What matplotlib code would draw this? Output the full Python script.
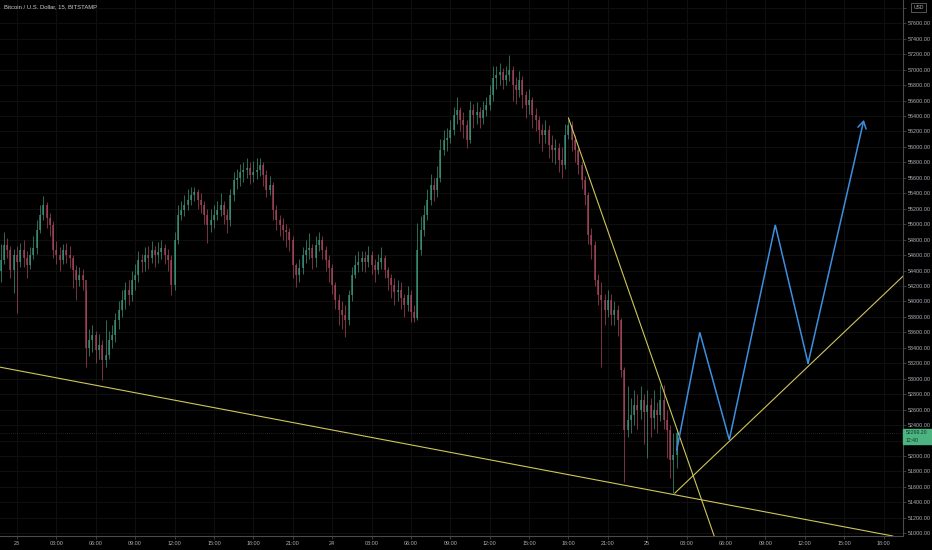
import matplotlib.pyplot as plt

plt.rcParams['font.family'] = ['Liberation Sans', 'DejaVu Sans']

# BTC/USD 15 minute bars, first bar at 22nd 22:45, open of each bar = previous close
first_open = 54400
closes = [
    54540, 54730, 54670, 54410, 54600, 54510, 54670, 54560, 54470, 54600,
    54690, 54930, 55120, 55250, 55080, 54990, 54670, 54600, 54540, 54670,
    54600, 54560, 54410, 54280, 54340, 54280, 53400, 53500, 53570, 53370,
    53440, 53240, 53310, 53500, 53570, 53760, 53890, 54020, 54150, 54080,
    54280, 54340, 54540, 54510, 54600, 54560, 54670, 54600, 54640, 54690,
    54600, 54540, 54210, 54800, 55120, 55180, 55250, 55310, 55380, 55420,
    55310, 55250, 55120, 54990, 55050, 55120, 55180, 55250, 55120, 55050,
    55380, 55570, 55600, 55680, 55700, 55730, 55640, 55680, 55700, 55770,
    55640, 55440, 55510, 55180, 55050, 54990, 54920, 54900, 54800, 54470,
    54340, 54430, 54600, 54670, 54690, 54560, 54730, 54800, 54670, 54540,
    54430, 54210, 54020, 53890, 53830, 53760, 54080, 54340, 54470, 54510,
    54560, 54510, 54600, 54470, 54410, 54510, 54560, 54410, 54300, 54210,
    54120, 54150, 54050, 53950, 54080, 53860, 53790, 54670, 54930, 55120,
    55310, 55510, 55440, 55600, 55960, 56090, 56120, 56220, 56410, 56480,
    56350, 56280, 56090, 56480, 56410, 56450, 56370, 56480, 56540, 56670,
    56890, 56930, 56970, 56870, 56930, 57000, 56800, 56740, 56870, 56670,
    56540, 56610, 56410, 56350, 56220, 56150, 56220, 56030, 55960, 55990,
    55830, 55770, 56150, 56280, 56090, 55960, 55770, 55570, 55380, 54860,
    54730, 54280, 54080, 54020, 53890, 54020, 53830, 53890, 53760, 53110,
    52340, 52470, 52530, 52660, 52600, 52730, 52570, 52660, 52490, 52600,
    52530, 52730, 52470, 52340, 51950, 52010, 52299,
]
highs = [
    54750, 54900, 54820, 54720, 54680, 54720, 54760, 54800, 54650, 54700,
    54850, 55050, 55250, 55360, 55290, 55150, 55040, 54780, 54700, 54750,
    54760, 54720, 54600, 54470, 54450, 54420, 54150, 53650, 53700, 53620,
    53580, 53500, 53760, 53620, 53700, 53850, 54000, 54150, 54250, 54280,
    54400, 54480, 54650, 54620, 54700, 54720, 54780, 54720, 54770, 54800,
    54750, 54680, 54600, 54900, 55250, 55300, 55380, 55450, 55480, 55480,
    55460, 55400, 55300, 55200, 55200, 55250, 55300, 55400, 55300, 55200,
    55450, 55680, 55720, 55780, 55800, 55850, 55800, 55820, 55850, 55860,
    55800, 55700, 55620, 55550, 55250, 55120, 55080, 55000, 54950, 54850,
    54500, 54550, 54700, 54800, 54880, 54750, 54850, 54900, 54850, 54720,
    54600, 54480, 54250, 54100, 54000, 53950, 54150, 54450, 54600, 54650,
    54650, 54650, 54720, 54650, 54550, 54620, 54700, 54600, 54450, 54350,
    54300, 54280, 54250, 54100, 54200, 54150, 53950, 55020, 55100, 55250,
    55450, 55650, 55600, 55750, 56100, 56220, 56250, 56350, 56520, 56650,
    56520, 56450, 56350, 56600, 56550, 56580, 56520, 56600, 56650, 56800,
    57050, 57050, 57080, 57020, 57050, 57190, 57050, 56900, 56980, 56920,
    56720, 56750, 56650, 56500, 56400, 56300, 56350, 56280, 56150, 56100,
    56050, 56000, 56300, 56380, 56330, 56150, 56000, 55820, 55620, 55420,
    54950, 54780, 54350, 54250, 54100, 54150, 54100, 54000, 53950, 53780,
    53150, 52900, 52750, 52850, 52800, 52900, 52800, 52850, 52750, 52850,
    52700, 52920, 52920, 52600, 52400, 52300, 52350,
]
lows = [
    54250, 54480, 54560, 54300, 54110, 53850, 54450, 54450, 54300, 54420,
    54550, 54620, 54880, 55050, 54950, 54850, 54560, 54480, 54400, 54480,
    54500, 54430, 54180, 54020, 54200, 54150, 53150, 53300, 53350, 53200,
    53250, 52980, 53150, 53250, 53400, 53480, 53650, 53800, 53900, 53950,
    54000, 54150, 54250, 54380, 54400, 54420, 54500, 54450, 54500, 54550,
    54480, 54400, 54080, 54150, 54750, 55050, 55100, 55180, 55250, 55300,
    55200, 55150, 55000, 54760, 54900, 54950, 55050, 55100, 55000, 54880,
    54980, 55300, 55450, 55500, 55550, 55600, 55520, 55550, 55580, 55620,
    55500, 55350, 55380, 55050, 54920, 54850, 54800, 54700, 54650, 54300,
    54190, 54250, 54350, 54500, 54550, 54420, 54450, 54650, 54550, 54400,
    54250, 54100, 53900, 53700, 53650, 53540, 53700, 54000, 54300, 54380,
    54400, 54380, 54450, 54350, 54250, 54350, 54420, 54300, 54150, 54050,
    53950, 54000, 53900, 53800, 53880, 53740, 53730, 53760, 54600, 54850,
    55050, 55250, 55300, 55350, 55550, 55900, 55950, 56050, 56150, 56300,
    56200, 56120, 55990, 56050, 56250, 56300, 56250, 56300, 56400, 56480,
    56600, 56750, 56800, 56750, 56800, 56850, 56600, 56550, 56650, 56500,
    56380, 56420, 56250, 56200, 56050, 55950, 56050, 55850, 55800, 55780,
    55680, 55600, 55720, 56100, 55950, 55800, 55650, 55450, 55250, 54750,
    54550, 54200, 53950, 53150, 53700, 53800, 53700, 53700, 53550, 53020,
    51660, 52250, 52300, 52400, 52350, 52480, 52150, 51980, 52250, 52350,
    52300, 52450, 52350, 51980, 51720, 51520, 51850,
]

# drawings: time in hours from 23rd 00:00, price in USD
support_t = [-1.3, 66.7]
support_p = [53150, 50965]
down_t = [42.0, 53.1]
down_p = [56375, 50965]
rise_t = [50.1, 67.5]
rise_p = [51520, 54330]
path_t = [50.25, 52.0, 54.25, 57.75, 60.25, 64.5]
path_p = [52080, 53600, 52210, 54990, 53200, 56350]

last_price = 52299.20
countdown = "12:40"

up_col = '#3f9c80'
dn_col = '#b04a62'
grid_col = '#0f0f0f'
text_col = '#aeb1b8'
yellow = '#cfc659'
blue = '#3d8fe0'

fig = plt.figure(figsize=(9.32, 5.5), dpi=100, facecolor='black')
ax = fig.add_axes([0, 14 / 550, 903 / 932, 536 / 550], facecolor='black')

times = [(i - 5) * 0.25 for i in range(len(closes))]
opens = [first_open] + closes[:-1]
for t, o, h, l, c in zip(times, opens, highs, lows, closes):
    col = up_col if c >= o else dn_col
    ax.vlines(t, l, h, color=col, lw=0.6, alpha=0.8)
    ax.vlines(t, min(o, c), max(o, c), color=col, lw=1.1, alpha=0.85)

ax.plot(support_t, support_p, color=yellow, lw=0.8)
ax.plot(down_t, down_p, color=yellow, lw=0.8)
ax.plot(rise_t, rise_p, color=yellow, lw=0.8)
ax.plot(path_t[:-1], path_p[:-1], color=blue, lw=1.1, solid_joinstyle='miter')
ax.annotate('', xy=(path_t[-1], path_p[-1]), xytext=(path_t[-2], path_p[-2]),
            arrowprops=dict(arrowstyle='->,head_length=0.5,head_width=0.3',
                            color=blue, lw=1.1, shrinkA=0, shrinkB=0))

ax.axhline(last_price, color='#555555', lw=0.5, ls=(0, (1, 2)), alpha=0.8)

ax.set_xlim(-1.295, 67.48)
ax.set_ylim(50965, 57901)

xt = list(range(0, 67, 3))
xl = []
for t in xt:
    if t % 24 == 0:
        xl.append(str(23 + t // 24))
    else:
        xl.append('%02d:00' % (t % 24))
ax.set_xticks(xt)
ax.set_xticklabels(xl)
yt = list(range(51000, 57801, 200))
# labels hidden behind the price tag and the currency box stay blank
ax.set_yticks(yt)
ax.set_yticklabels(['' if v in (52200, 57800) else '%.2f' % v for v in yt])
ax.yaxis.tick_right()
ax.grid(True, color=grid_col, lw=0.8)
ax.set_axisbelow(True)
ax.tick_params(colors='#555555', labelcolor=text_col, labelsize=3.9,
               length=2, width=0.5, pad=1.5)
for s in ['top', 'left']:
    ax.spines[s].set_visible(False)
for s in ['right', 'bottom']:
    ax.spines[s].set_color('#4a4a4a')
    ax.spines[s].set_linewidth(0.8)

# current price tag and currency box on the price scale
fig.patches.append(plt.Rectangle((903 / 932, 1 - 444 / 550), 29 / 932, 15 / 550,
                                 transform=fig.transFigure, color='#4cb381',
                                 zorder=5))
fig.text(906 / 932, 1 - 433 / 550, '%.2f' % last_price, color='#0d3b24',
         fontsize=3.7, va='center', zorder=6)
fig.text(906 / 932, 1 - 440 / 550, countdown, color='#0d3b24',
         fontsize=3.7, va='center', zorder=6)
fig.patches.append(plt.Rectangle((911 / 932, 1 - 12 / 550), 15 / 932, 9 / 550,
                                 transform=fig.transFigure, facecolor='black',
                                 edgecolor='#777777', lw=0.5, zorder=5))
fig.text(918.5 / 932, 1 - 7.5 / 550, 'USD', color=text_col, fontsize=3.6,
         ha='center', va='center', zorder=6)

fig.text(4 / 932, 1 - 7 / 550, 'Bitcoin / U.S. Dollar, 15, BITSTAMP',
         color='#c8cad0', fontsize=4.2, va='center')

fig.savefig('out.png', dpi=100, facecolor='black')
